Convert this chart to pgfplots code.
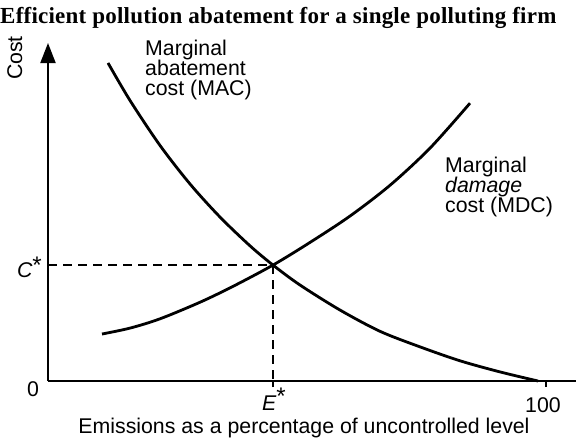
\documentclass[border=0pt]{standalone}
\usepackage{pgfplots}
\pgfplotsset{compat=1.18}
\usepackage{fontspec}
\usetikzlibrary{arrows.meta}
\newfontfamily\sansf{Liberation Sans}
\newfontfamily\titlef[LetterSpace=1]{Liberation Serif}
\newcommand{\lab}{\sansf\fontsize{21.3bp}{24bp}\selectfont}
\begin{document}
\begin{tikzpicture}
\begin{axis}[
  at={(48bp,-381bp)}, anchor=origin,
  x=4.98bp, y=3.38bp,
  xmin=0, xmax=106, ymin=0, ymax=100,
  axis lines=left,
  x axis line style={line width=2bp, -},
  y axis line style={line width=2bp, -{Triangle[width=15bp,length=20bp]}},
  xtick={45.18,100}, xticklabels={,},
  ytick=\empty,
  tick align=outside,
  major tick length=6bp,
  xtick style={line width=1.6bp, black},
  clip=false,
]
\addplot[black, line width=2.8bp, smooth] coordinates {
 (12.05,94.1) (16.47,83.0) (22.49,69.7) (28.51,58.3) (34.54,48.5)
 (40.56,40.0) (45.18,34.3) (50.60,28.4) (58.63,21.0) (66.67,14.7)
 (74.70,10.1) (82.73,5.98) (90.76,2.69) (98.39,0)
};
\addplot[black, line width=2.8bp, smooth] coordinates {
 (10.84,13.9) (16.47,15.65) (22.49,18.4) (30.52,23.3) (37.15,28.0)
 (45.18,34.3) (52.61,41.0) (60.64,48.8) (68.67,57.9) (76.71,68.9) (84.74,82.2)
};
\addplot[black, line width=2bp, dash pattern=on 9bp off 6bp] coordinates {
 (0,34.3) (45.18,34.3)
};
\addplot[black, line width=2bp, dash pattern=on 9bp off 6bp] coordinates {
 (45.18,34.3) (45.18,0)
};
\end{axis}
\node[anchor=base west, inner sep=0] at (0bp,-23bp) {\titlef\bfseries\fontsize{23bp}{25bp}\selectfont Efficient pollution abatement for a single polluting firm};
\node[rotate=90, anchor=base, inner sep=0] at (22bp,-58bp) {\lab Cost};
\node[anchor=base west, inner sep=0] at (145bp,-55bp) {\lab Marginal};
\node[anchor=base west, inner sep=0] at (145bp,-75bp) {\lab abatement};
\node[anchor=base west, inner sep=0] at (145bp,-95bp) {\lab cost (MAC)};
\node[anchor=base west, inner sep=0] at (445bp,-172bp) {\lab Marginal};
\node[anchor=base west, inner sep=0] at (445bp,-192bp) {\lab\itshape damage};
\node[anchor=base west, inner sep=0] at (445bp,-212bp) {\lab cost (MDC)};
\node[anchor=base east, inner sep=0] at (42bp,-277bp) {\lab\itshape C\upshape\raisebox{4bp}{\fontsize{24bp}{24bp}\selectfont *}};
\node[anchor=base, inner sep=0] at (33bp,-396bp) {\lab 0};
\node[anchor=base west, inner sep=0] at (262bp,-410bp) {\lab\itshape E\upshape\raisebox{6bp}{\fontsize{24bp}{24bp}\selectfont *}};
\node[anchor=base, inner sep=0] at (543bp,-412bp) {\lab 100};
\node[anchor=base, inner sep=0] at (304bp,-433bp) {\lab Emissions as a percentage of uncontrolled level};
\pgfresetboundingbox
\path[use as bounding box] (0bp,0bp) rectangle (576bp,-439bp);
\end{tikzpicture}
\end{document}
